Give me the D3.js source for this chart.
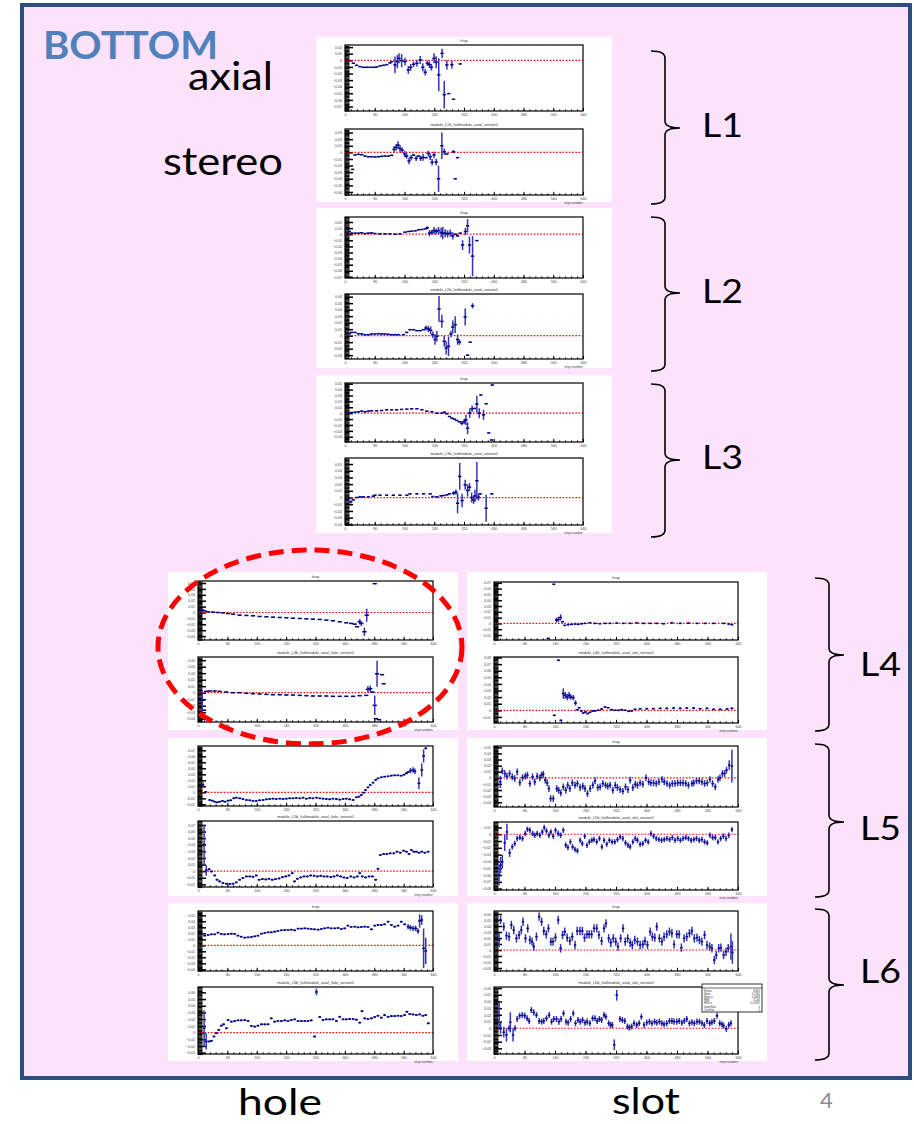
<!DOCTYPE html>
<html><head><meta charset="utf-8">
<script src="https://cdn.jsdelivr.net/npm/d3@7"></script>
<style>body{margin:0;background:#fff}svg{display:block}</style>
</head><body>
<svg id="c" width="914" height="1124"></svg>
<script>
// ---------------- DATA (x: % of axis range, y: residual units, red line at 0, optional error) ----------------
const layerNames = ["L1","L2","L3","L4","L5","L6"];
const rowLabels = ["axial","stereo"];
const columnLabels = ["hole","slot"];
const slideTitle = "BOTTOM";
const pageNumber = "4";
const topTitle = "hray";
const bottomTitles = ["module_L1b_halfmodule_axial_sensor0","module_L2b_halfmodule_axial_sensor0","module_L3b_halfmodule_axial_sensor0",
  "module_L4b_halfmodule_axial_hole_sensor0","module_L4b_halfmodule_axial_slot_sensor0",
  "module_L5b_halfmodule_axial_hole_sensor0","module_L5b_halfmodule_axial_slot_sensor0",
  "module_L6b_halfmodule_axial_hole_sensor0","module_L6b_halfmodule_axial_slot_sensor0"];
const statsNames = ["Entries","Mean","Mean y","RMS","RMS y","Underflow","Overflow"];
const statsValues = ["15655","0.1952","-0.0048","51.66","0.01367","0","0"];

const L1_axial = [[3.5,-4.5],[4.9,-7.6],[6.3,-9.6],[7.7,-10.6],[9.1,-10.6],[10.5,-10.6],[11.9,-10.6],[13.3,-10.1],[14.7,-8.6],[16.1,-7.6],[17.5,-6.6],[18.9,-4],[19.6,-2],
 [21,-7,12.6],[22,-2,10],[22.7,3,7.6],[23.8,-0.5,10],[25.2,-2,6],[26.6,-14.6,6],[27.6,-10.6,5],[28.8,-6,4],[30.2,-4.5,5],[31.6,0.5,6],[32.7,-10.6,6],[33.7,-18,5],
 [34.6,-4.5,4],[35.5,-6.6,5],[36.3,-10.6,5],[37.4,3,7.6],[38.3,-3,9],[39.4,-22,25],[40.8,10.6,7],[41.7,-52,21],[42.8,-7,7],[43.6,-50.5,0.5],[44.9,-6.6,6],[45.6,-59,0.5],[48.4,-5.5,0.5]];
const L1_stereo = [[3.2,-25.8],[4.2,-4],[5.6,-3],[7,-3.5],[8.4,-5.6],[9.8,-6.6],[11.2,-6.6],[12.6,-7],[14,-6.6],[15.4,-6],[16.8,-5.6],[18.2,-5.6],[19.6,-4.5],
 [20.6,4.5,5],[21.5,7.6,5],[22.3,11,6],[23.1,6,5],[24,3.5,4],[25.1,-2.5,5],[25.9,-5.6,4],[26.9,-13,5],[27.8,-8,4],[28.8,-4],[29.9,-9,4],[30.9,-5.6],[31.8,-9,4],
 [32.8,-7.6,5],[34,-8],[35,-1.5,4],[35.8,-6.6,5],[36.6,-15,5],[37.4,-4,5],[38.3,-14.6,5],[39.3,-40,20],[40.7,10,20],[41.7,1,5],[42.8,-2.5],[45.6,1,2.5],[46.3,-40],[47.3,-8]];
const L2_axial = [[1.8,4.4],[2.8,1.7],[4.2,1.7],[5.6,1.7],[7,2.2],[8.4,1.1],[9.8,1.7],[11.2,2.2],[12.6,1.1],[14.7,0.5],[16.8,0.5],[18.9,0.5],[21,0],[23.1,0.5],
 [25.2,3.3],[26.6,4.4],[28,5],[29.5,5.5],[30.9,7.2],[32.3,7.7],[33.7,8.8],[34.6,10.5,2.5],[35.5,1.7,5],[36.5,3.3,4],[37.4,6,6],[38.3,4.4,5],[39.3,6,6],[40.4,2.8,8],
 [41.1,1.7,10],[42.1,1.7,6.6],[43.1,0.5,6],[44.2,1.7,6],[45.3,-2.8,6],[46.4,0],[47.3,-2.8],[48.4,1.7],[49.4,-17.7,8],[50.6,4.4,6],[51.5,13.8,11],[52.3,-17.7,14],[53.6,-36,33],[55.4,-10.5]];
const L2_stereo = [[1.8,3],[2.8,5],[4.2,5],[5.6,3],[7,2.6],[8.4,1.5],[9.8,1.5],[11.2,2.6],[12.6,2.6],[14,3],[15.4,2.6],[16.8,2.6],[18.2,2],[19.6,1.5],[21,1.5],[22.4,1.5],
 [24.5,1.5],[25.9,5],[27.3,9.2],[28.8,9.2],[30.2,7.7],[31.6,7.7],[33,9.2],[34,11.8,4],[35,10.3,5],[36,8.2,6],[36.9,1.5,5],[37.8,-6,8],[38.6,-1,8],[39.5,41,20],
 [40.7,22,10],[41.7,-8.7,8],[42.5,-19,10],[43.5,-16.4,15],[44.5,2.6,5],[45.3,13.3,10],[46.3,17,13],[47.3,-6,8],[48.1,-10,4],[50.5,28.7,13],[51.5,-30],[52.6,-10],[53.6,46,4]];
const L3_axial = [[1.4,0],[2.8,1.1],[4.2,1.7],[5.6,2.3],[7,3.4],[8.4,2.3],[9.8,3.4],[11.2,4],[13.3,4],[15.4,4.5],[17.5,5.7],[19.6,5.7],[21.7,5.7],[23.8,6.3],[26,6.8],
 [28,7.4],[30.2,7.4],[32.3,5.7],[34.4,3.4],[36.5,2.3],[38.6,0],[40.7,0],[41.8,1.7],[42.8,-1.1],[43.9,-5.7],[44.9,-8.5],[46,-10.2],[47,-12.5],[48.1,-14.8],
 [49.1,-17,3.5],[50.1,-14.2,4.5],[50.8,-11.4,8.5],[51.5,-25.6,10],[52.4,0,8],[53.4,7.4,5.5],[54.4,8],[55.4,15.3,14],[56.4,0,8.5],[57.1,30.7],[58.2,-2.8,8.5],[59.3,16],[60.4,-33.5],[61.9,47.7],[61.6,-45.5]];
const L3_stereo = [[1.4,-1],[2.4,-6.5,2.5],[3.5,-3.5],[4.9,0],[6.3,1],[7.7,1],[9.8,1],[11.9,2],[12.6,3.5],[14.7,3.5],[17.5,3.5],[20.3,3.5],[23.1,3.5],[26,3.5],
 [27.3,5.5],[30.2,5.5],[33,5.5],[35.8,5.5],[36.9,1.5],[38.6,1],[40.3,2.5],[41.4,3],[42.8,4],[43.9,5.5],[45.6,6.5,3],[46.6,8,4],[47.3,-8.5,15],[48.2,31.5,20],
 [49.2,-4.5,10],[50.5,19,7.5],[51.5,10.5,9],[52.3,15.5,6],[53.2,0,7.5],[54,-3.5,6],[54.6,2.5,9],[55.4,25,28],[56.1,0.5,5],[56.8,5.5],[59.3,-16,20],[61.7,5.5]];
const L4_hole_axial = [[1.8,4,2.8],[2.8,2.8],[4.3,1.1],[6.4,0.6],[8.5,0],[10.6,-0.6],[12.8,-1.7],[14.9,-2.8],[17.7,-4.5],[20.6,-5],[23.4,-5.6],[26.2,-6.7],[29.1,-7.3],
 [31.9,-7.9],[34.8,-8.4],[37.6,-9],[40.4,-9.6],[43.3,-10.1],[46.1,-10.7],[48.9,-11.2],[51.8,-11.8],[54.6,-12.9],[57.4,-14],[60.3,-15.7],[63.1,-17.4],[65.2,-18.5],
 [66.7,-19.7],[67.7,-24.2],[68.8,-15.7,4.5],[69.5,-18.5,4.5],[70.8,-32.6,7],[71.8,-4.5,11],[75.2,48.9]];
const L4_hole_stereo = [[1.8,-11.8,15],[2.6,-27],[3.5,2],[5,2.6],[7.1,2.6],[9.2,2],[12,1],[14.9,0],[17.7,0],[20.6,-1],[23.4,-1.5],[26.2,-2],[29.1,-2.6],[31.9,-3.1],
 [34.8,-3.1],[37.6,-3.6],[40.4,-3.6],[43.3,-4.1],[46.1,-4.6],[48.9,-5.1],[51.8,-5.1],[54.6,-5.1],[57.4,-5.6],[60.3,-5.6],[63.1,-5.6],[66,-5.6],[68.8,-4.6],[71.6,-4.1],
 [72.3,5.1,5],[73.3,6.1,5],[74.2,1],[75.2,-19.5,15],[75.7,-40],[76.2,29,20],[78.3,27.7],[79,13.8],[77,-41.5]];
const L4_slot_axial = [[22.2,-25.7],[24.5,67.4],[25.6,5.7,4.5],[26.4,6.9,4.5],[27.3,10.3,5.5],[28.1,2.9],[29,-3.4],[30.4,-2.3],[31.8,-1.7],[33.2,-1.1],[34.5,-1.7],[35.9,-0.6],
 [37.3,0],[39.3,1.1],[41.4,0],[43.4,-0.6],[45.5,0],[47.5,0],[50.3,0.6],[53,0],[55.8,0],[58.5,1.1],[61.2,0],[64,0],[66.7,0],[69.5,-0.6],[72.9,1.1],[76.3,0],[79.7,0.6],
 [83.2,0],[86.6,0],[90,0],[94.1,0],[96.2,-1.1],[97.5,-2.3]];
const L4_slot_stereo = [[24.7,-7.6],[26.4,75.8],[27.4,-15.2],[28.4,25.3,8],[29.2,22.7,5],[30,20.2,5],[30.8,22.7,5],[31.5,20.2,4],[32.5,19.2,4],[33.4,11.1,4],[34.1,1],
 [34.9,4],[35.8,-1],[36.6,-4],[37.5,-2.5],[38.4,-5],[39.3,-3],[40.4,-1],[41.4,-1],[42.7,0],[44.1,2],[45.5,5],[46.8,4],[48.2,1],[49.6,0],[51,0],[52.3,1],[53.7,0],
 [55.1,-1.5],[56.4,-1],[57.8,1.5],[59.9,2.5],[62.6,2.5],[65.3,2.5],[68.1,3],[70.8,3],[73.6,3.5],[76.3,3],[79,3.5],[81.8,3.5],[84.5,2.5],[87.3,3],[90,1.5],[92.7,1.5],[95.5,2],[97.5,3]];
const L5_hole_axial = [[2.1,12.2,4.5],[3.3,0.6],[5,-12.8],[6.1,-13.9],[7.1,-15.6],[8.1,-16.7],[9.2,-15.6],[10.4,-14.4],[11.5,-15.6],[12.8,-13.9],[13.9,-13.3],[15.2,-10],
 [16.3,-8.9],[17.7,-10],[19.1,-11.1],[20.6,-12.8],[22,-13.3],[23.4,-14.4],[24.8,-14.4],[26.2,-13.3],[27.7,-12.8],[29.1,-11.7],[30.5,-11.1],[31.9,-10.6],[33.3,-11.1],
 [34.8,-10.6],[36.2,-11.1],[37.6,-10.6],[39,-10],[40.4,-10],[41.8,-9.4],[43.3,-10],[44.7,-8.9],[46.1,-10.6],[47.5,-9.4],[48.9,-10],[50.4,-8.9],[51.8,-10],[53.2,-10.6],
 [54.6,-11.1],[56,-11.7],[57.4,-10.6],[58.9,-11.1],[60.3,-12.2],[61.7,-11.1],[63.1,-10.6],[64.5,-11.7],[66,-12.8],[67.4,-8.3],[68.5,-7.2],[69.5,-4.4],[70.5,-0.6],
 [71.3,3.9],[72.3,8.3],[73.3,12.2],[74.5,16.1],[75.6,20.6],[76.6,23.3],[78,25],[79.4,26.1],[80.9,26.7],[82.3,27.8],[83.7,28.3],[85.1,28.3],[86.5,27.8],[87.7,29.4],
 [88.7,31.7],[89.4,33.9],[90.4,36.1,4.5],[91.5,37.2,4.5],[92.3,35,4.5],[94,15,10],[95.2,37.2,11],[96,60.6,11],[96.9,73.3]];
const L5_hole_stereo = [[2.6,40.5,30],[3.5,1,8],[4.7,3],[5.7,-0.5],[7.1,-6.5],[8.1,-13],[9.2,-15.5],[10.6,-18],[12.1,-19],[13.5,-19.5],[14.9,-19],[16.3,-17],[17.7,-13],
 [19.1,-10.5],[20.6,-8],[22,-8],[23.4,-8.5],[24.8,-6.5],[26,-13],[27.4,-12],[28.8,-12.5],[30.2,-11.5],[31.6,-13],[33,-12],[34.5,-11],[35.9,-9],[37.3,-8],[38.7,-6.5],
 [40.1,-3],[41.1,-15.5],[42.3,-11.5],[43.7,-9.5],[45.1,-8],[46.5,-8],[47.9,-6.5],[49.4,-7],[50.8,-8],[52.2,-7],[53.6,-8],[55,-8],[56.5,-9],[57.9,-8],[59.3,-6.5],
 [60.7,-8],[62.1,-9.5],[63.5,-10.5],[65,-8],[66.4,-9.5],[67.8,-8],[68.8,-3],[69.9,-8],[71.3,-9.5],[72.8,-8],[74.2,-8],[75.6,-13],[76.6,3.5],[77.6,24.5],[79,26],
 [80.4,26],[81.8,27],[83.3,27],[84.7,29.5],[86.1,28],[87.5,31],[88.7,29.5],[89.8,26],[90.8,32],[91.8,29.5],[92.9,29.5],[94,28],[95.2,29.5],[96.5,28],[97.9,29.5]];
const L5_slot_axial = [[2.6,-6.6,10],[3.4,11.5],[4.4,7.1],[5.3,2.7],[6.4,7.1],[7.5,1.6],[8.5,-1.1],[9.5,9.9],[10.6,-7.7],[11.7,0.5],[12.8,2.7],[13.7,4.4],[14.7,-9.3],
 [15.8,1.6],[16.7,-6.6],[17.7,2.7],[18.8,0],[19.5,4.4],[20.2,6],[21,-3.8],[21.8,-8.2],[22.5,-17.6],[23.2,-34],[24.3,-34],[25.7,-17.6],[26.5,-20.3],[27.4,-24.7],
 [28.4,-14.8],[29.4,-20.3],[30.2,-12.1],[31.1,-17.6],[32.1,-8.2],[33.2,-12.1],[34.2,-9.3],[35.3,-15.9],[36.4,-13.7],[37.3,-17.6],[38.3,-25.8],[39.4,-17.6],[40.5,-12.1],
 [41.4,-4.9],[42.5,-15.9],[43.5,-14.8],[44.6,-9.3],[45.7,-12.1],[46.6,-13.7],[47.6,-12.1],[48.7,-20.3],[49.7,-12.1],[50.6,-15.9],[51.7,-19.2],[52.8,-22],[53.9,-14.8],
 [54.9,-19.2],[55.8,-3.8],[56.9,-15.9],[57.9,-10.4],[58.8,-12.1],[59.9,-8.2],[61,-10.4],[62.3,0],[63.4,-6.6],[64.3,-8.2],[65.4,-8.2],[66.5,-9.3],[67.6,-6.6],[68.9,-2.7],
 [69.8,-6.6],[70.9,-9.3],[72,-12.1],[73.1,-9.3],[74.2,-9.3],[75.3,-8.2],[76.4,-8.2],[77.5,-8.2],[78.6,-9.3],[79.7,-12.1],[81.1,-9.3],[81.9,-8.2],[83,-4.9],[84.1,-4.9],
 [85.2,-6.6],[86.3,-9.3],[87.4,-8.2],[88.5,-2.7],[89.6,-9.3],[90.7,-14.8],[91.8,-2.7],[92.6,0],[93.6,7.1],[94.5,7.1],[95.3,12.6],[96.4,20.9,8],[97.5,19.2,27]];
const L5_slot_stereo = [[2.1,-60,15],[2.7,-45.4,12],[3.4,-40.5,10],[4.4,-12.7,12],[5.3,3.4,12],[6.4,-27.3,6],[7.5,-18.5],[8.5,-13.7],[9.5,-6.3],[10.6,-4.9],[11.7,-6.3],
 [12.8,1],[13.7,7.3],[14.7,5.9],[15.8,1],[16.7,-1.5],[17.7,1],[18.8,-1.5],[19.8,3.4],[20.6,9.8],[21.5,4.9],[22.5,-1.5],[23.3,3.4],[24.3,-2.9],[25.2,5.9],[26.3,1],
 [27.3,-1.5],[28.4,5.9],[29.4,-16.1],[30.3,-19.5],[31.3,-11.2],[32.2,-18.5],[33.2,-22.4],[34.2,-24.4],[35.3,-8.8],[36.2,-13.7],[37.2,-2.9],[38.1,-16.1],[39.1,-11.2],
 [40.1,-8.8],[41,-7.8],[42.1,-11.2],[43.2,-6.3],[44.2,-18.5],[45.1,-8.8],[46.2,-14.6],[47.3,-8.8],[48.4,-11.2],[49.5,-11.2],[50.6,-7.8],[51.7,-3.9],[52.8,-6.3],
 [53.9,-12.7],[54.9,-16.1],[55.8,-18.5],[56.9,-11.2],[57.9,-6.3],[58.8,-8.8],[59.9,-14.6],[61,-13.7],[62.1,-8.8],[63.2,-11.2],[64.3,1],[65.4,-2.9],[66.5,-6.3],
 [67.6,-7.8],[68.7,-8.8],[69.8,-7.8],[70.9,-6.3],[72,-7.8],[73.1,-4.9],[74.2,-8.8],[75.3,-6.3],[76.4,-8.8],[77.5,-6.3],[78.6,-4.9],[79.7,-6.3],[80.8,-8.8],[81.9,-7.8],
 [83,-6.3],[84.1,-8.8],[85.2,-7.8],[86.3,-11.2],[87.4,-12.7],[88.5,-1.5],[89.6,-4.9],[90.7,-4.9],[91.8,-11.2],[92.9,-6.3],[94,-2.9],[95.1,-6.3],[96.2,-1.5],[97.5,6.8]];
const L6_hole_axial = [[2.8,16.1],[4.3,17.2],[5.7,18.3],[7.1,18.3],[8.5,21.1],[9.9,18.9],[11.3,18.3],[12.8,18.9],[14.2,19.4],[15.6,18.9],[17,16.1],[18.4,14.4],[19.9,12.8],
 [21.3,13.3],[22.7,13.9],[24.1,15],[25.5,16.1],[27,19.4],[28.4,20.6],[29.8,21.7],[31.2,21.7],[32.6,22.8],[34,23.9],[35.5,25],[36.9,25.6],[38.3,25.6],[39.7,26.1],
 [41.1,25],[42.6,27.8],[44,27.8],[45.4,28.3],[46.8,27.8],[48.2,27.2],[49.6,26.7],[51.1,26.1],[52.5,27.2],[53.9,28.3],[55.3,29.4],[56.7,28.3],[58.2,28.3],[59.6,28.9],
 [61,27.2],[62.4,28.3],[63.8,32.8],[65.2,30.6],[66.7,31.1],[68.1,30],[69.5,30.6],[70.9,31.1],[72.3,30.6],[73.8,26.7],[75.2,32.8],[76.6,33.9],[78,33.9],[79.4,35],
 [80.9,39.4],[82.3,33.9],[83.7,31.1],[85.1,32.8],[86.5,39.4],[87.9,35],[89.4,31.1,4.5],[90.4,29.4,4.5],[91.5,28.3,4.5],[92.6,28.3,4.5],[93.6,23.9,4.5],[94.3,40.6,11],
 [95.2,42.2,8],[96,-5,33],[96.9,-9.4,22]];
const L6_hole_stereo = [[2.6,6.4,27],[3.5,-13.3,12],[4.7,-13.3],[5.7,-12.3],[6.8,-5.9],[7.8,-1],[8.8,3.9],[9.9,10.3],[10.9,12.3],[12.1,6.4],[12.8,18.7],[14.2,16.3],
 [15.6,17.2],[17,18.2],[18.4,18.2],[19.9,18.7],[21.3,17.2],[22.7,9.9],[24.1,8.9],[25.5,10.3],[27,12.3],[28.4,12.3],[29.8,12.3],[31.2,21.2],[32.6,16.3],[34,17.2],
 [35.5,17.2],[36.9,18.2],[38.3,17.2],[39.7,18.7],[41.1,19.7],[42.6,17.2],[44,17.2],[45.4,17.2],[46.8,17.2],[48.2,18.2],[49.6,-5.9],[50.4,60.6,5],[51.8,23.2],[53.2,18.7],
 [54.6,19.7],[56,19.7],[57.4,19.7],[58.9,17.2],[60.3,23.6],[61.7,19.7],[63.1,19.7],[64.5,20.2],[66,20.2],[67.4,19.2],[68.8,14.8],[69.8,32],[70.9,21.2],[72.3,20.2],
 [73.8,21.2],[75.2,23.2],[76.6,25.1],[78,22.2],[79.4,26.1],[80.9,23.6],[82.3,24.6],[83.7,24.6],[85.1,25.1],[86.5,24.6],[87.9,26.1],[88.9,31],[90.1,27.6],[91.5,27.1],
 [92.9,26.1],[94.3,27.1],[95.7,25.1],[96.9,26.1],[98,13.8]];
const L6_slot_axial = [[2.1,16.7,12],[2.7,50],[4,38.9],[5.1,23.9],[6.2,22.2],[7.1,41.7],[8.1,33.3],[9.2,19.4],[10.3,25],[11.2,33.3],[11.9,47.2],[12.9,19.4],[13.8,36.1],
 [14.7,16.7],[15.6,13.9],[16.3,5.6],[17.4,22.2],[18.5,55.6],[19.5,47.2],[20.4,31.7],[21.4,26.1],[22.3,36.1],[23.3,13.9],[24.2,13.9],[25.2,21.1],[26.3,50],[27.3,2.8],
 [28.1,25],[29,30.6],[30,20.6],[31.1,15],[32.1,22.2],[33.2,8.3],[34.1,31.7],[35.2,31.7],[36.2,31.7],[37.1,20.6],[38.1,26.1],[39,26.1],[40,26.1],[41,36.1],[42.1,36.1],
 [43,25],[44.1,15],[45.1,36.1],[45.9,44.4],[47,19.4],[47.9,12.2],[48.9,19.4],[49.9,13.9],[50.8,5.6],[51.9,19.4],[52.9,36.1],[53.8,13.9],[54.8,19.4],[55.8,12.2],
 [56.7,8.3],[57.7,16.7],[58.8,13.9],[59.9,8.3],[61,9.4],[61.9,15],[62.9,8.3],[64,30.6],[64.9,22.2],[65.9,20.6],[66.7,38.9],[67.8,19.4],[68.8,13.9],[69.7,22.2],
 [70.8,26.1],[71.9,30.6],[72.9,27.8],[73.8,9.4],[74.9,26.1],[75.9,26.1],[76.8,3.9],[77.9,19.4],[79,22.2],[80.1,27.8],[81.1,31.7],[82.1,19.4],[83.2,20.6],[84.2,16.7],
 [85.2,13.9],[86.3,25],[87.3,8.3],[88.4,5.6],[89.3,2.8],[90.3,-16.7],[91.1,-8.3],[92.1,2.8],[93,3.9],[94.1,-8.3],[95.1,-2.8],[96,2.8],[97.1,5.6,22],[97.7,-3.9,19]];
const L6_slot_stereo = [[2.1,19.7,20],[2.7,0,8],[4,-5.9,8],[5.1,-9.9,10],[6.2,0],[6.7,8.9,15],[7.8,-9.9,10],[8.6,0],[9.5,13.8],[10.5,18.7],[11.6,19.7],[12.6,18.7],
 [13.6,14.8],[14.4,10.8],[15.3,27.1],[16.3,23.6],[17.4,19.7],[18.5,10.8],[19.5,9.9],[20.4,10.8],[21.5,14.8],[22.6,19.7],[23.6,9.9],[24.5,13.8],[25.6,13.8],[26.6,9.9],
 [27.5,13.8],[28.5,22.2],[29.5,9.9],[30.4,8.4],[31.4,13.8],[32.5,22.2],[33.4,7.4],[34.4,12.3],[35.3,9.9],[36.3,12.3],[37.3,8.4],[38.2,9.9],[39.3,7.4],[40.4,14.8],
 [41.4,14.8],[42.3,10.8],[43.2,13.8],[44.1,12.3],[45.1,19.7],[45.9,17.2],[47,7.4],[47.8,4.9],[48.5,4.9],[49.3,-24.6,8],[50.3,49.3,8],[51.6,13.8],[52.6,12.3],[53.6,10.8],
 [54.7,2.5],[55.5,1],[56.4,2.5],[57.4,7.4],[58.5,4.9],[59.5,7.4],[60.4,17.2],[61.5,4.9],[62.6,8.4],[63.7,9.9],[64.7,7.4],[65.8,9.9],[66.7,8.4],[67.8,9.9],[68.8,7.4],
 [69.7,5.9],[70.8,7.4],[71.9,10.8],[72.9,10.8],[73.8,9.9],[74.9,9.9],[75.9,10.8],[77,8.4],[78,10.8],[79,13.8],[80.1,7.4],[81.1,8.9],[82.1,7.4],[83.2,9.9],[84.2,9.9],
 [85.2,7.4],[86.2,4.9],[87.3,10.8],[88.4,7.4],[89.3,8.9],[90.3,10.8],[91.4,18.7],[92.5,7.4],[93.4,5.9],[94.1,3.9],[95.2,-1],[96.2,4.9],[97.1,7.4]];

// y-axis ranges of each pad (residual units)
const yRanges = {
  L1_axial:[-76.8,23.2], L1_stereo:[-64.6,35.4], L2_axial:[-71.8,28.2], L2_stereo:[-35.9,64.1],
  L3_axial:[-48.9,51.1], L3_stereo:[-41,59], L4_hole_axial:[-46.6,53.4], L4_hole_stereo:[-45.1,54.9],
  L4_slot_axial:[-28.6,71.4], L4_slot_stereo:[-19.2,80.8], L5_hole_axial:[-22.8,77.2], L5_hole_stereo:[-24,76],
  L5_slot_axial:[-47.8,52.2], L5_slot_stereo:[-82,18], L6_hole_axial:[-42.8,57.2], L6_hole_stereo:[-32,68],
  L6_slot_axial:[-35,65], L6_slot_stereo:[-38.4,61.6]
};
// default error (residual units) where none is given
const defaultErr = {
  L1_axial:0.8, L1_stereo:0.8, L2_axial:0.8, L2_stereo:0.8, L3_axial:0.8, L3_stereo:0.8,
  L4_hole_axial:0.8, L4_hole_stereo:0.8, L4_slot_axial:1, L4_slot_stereo:1.2,
  L5_hole_axial:1.5, L5_hole_stereo:1.5, L5_slot_axial:5.5, L5_slot_stereo:4,
  L6_hole_axial:1.5, L6_hole_stereo:1.5, L6_slot_axial:7, L6_slot_stereo:4.5
};
const series = {L1_axial,L1_stereo,L2_axial,L2_stereo,L3_axial,L3_stereo,L4_hole_axial,L4_hole_stereo,L4_slot_axial,L4_slot_stereo,
  L5_hole_axial,L5_hole_stereo,L5_slot_axial,L5_slot_stereo,L6_hole_axial,L6_hole_stereo,L6_slot_axial,L6_slot_stereo};

// ---------------- LAYOUT ----------------
const svg = d3.select("#c");
const PINK = "#fce2fa", NAVY = "#000080", BAR = "#3434b4";
svg.append("rect").attr("x",0).attr("y",0).attr("width",914).attr("height",1124).attr("fill","#fff");
svg.append("rect").attr("x",22).attr("y",5).attr("width",888).attr("height",1073)
  .attr("fill",PINK).attr("stroke","#2c4d7f").attr("stroke-width",4);

const panels = [
  {key:"L1", box:[316,37,612,202], fx:[345,583], top:[45,111], bot:[129,195], hw:0.7, t:0},
  {key:"L2", box:[316,208,612,368], fx:[345,583], top:[217,278], bot:[294,359], hw:0.7, t:1},
  {key:"L3", box:[316,375,612,533], fx:[345,583], top:[383,442], bot:[458,525], hw:0.7, t:2},
  {key:"L4_hole", box:[168,572,458,730], fx:[198,433], top:[581,640], bot:[657,722], hw:0.9, t:3},
  {key:"L4_slot", box:[467,572,767,730], fx:[494,738], top:[582,640], bot:[657,723], hw:0.6, t:4},
  {key:"L5_hole", box:[168,738,458,896], fx:[198,433], top:[746,806], bot:[821,887], hw:0.6, t:5},
  {key:"L5_slot", box:[467,738,767,896], fx:[494,738], top:[746,807], bot:[822,890], hw:0.5, t:6},
  {key:"L6_hole", box:[168,903,458,1061], fx:[198,433], top:[911,971], bot:[987,1054], hw:0.6, t:7},
  {key:"L6_slot", box:[467,903,767,1061], fx:[494,738], top:[911,971], bot:[987,1054], hw:0.5, t:8}
];

const tinyFont = "Liberation Sans, Arial, sans-serif";
function drawPad(g, name, fx, fy, title, hw, showXLabel) {
  const x = d3.scaleLinear().domain([0,100]).range(fx);
  const y = d3.scaleLinear().domain(yRanges[name]).range([fy[1], fy[0]]);
  g.append("rect").attr("x",fx[0]).attr("y",fy[0]).attr("width",fx[1]-fx[0]).attr("height",fy[1]-fy[0])
    .attr("fill","#fff");
  // minor y ticks (ROOT style, inside the frame)
  const ym = g.append("g").attr("transform",`translate(${fx[0]},0)`)
    .call(d3.axisLeft(y).ticks(40).tickSize(-4.5).tickFormat(""));
  ym.select(".domain").remove();
  ym.selectAll("line").attr("stroke","#000").attr("stroke-width",1.2);
  const yM = g.append("g").attr("transform",`translate(${fx[0]},0)`)
    .call(d3.axisLeft(y).ticks(8).tickSize(-8).tickPadding(3).tickFormat(d=>d3.format("~g")(d/1000)));
  yM.select(".domain").remove();
  yM.selectAll("line").attr("stroke","#000").attr("stroke-width",1.5);
  yM.selectAll("text").attr("font-size",3.6).attr("font-family",tinyFont).attr("fill","#444");
  // x ticks
  const xm = g.append("g").attr("transform",`translate(0,${fy[1]})`)
    .call(d3.axisBottom(x).tickValues(d3.range(0,100.1,2.5)).tickSize(-1.6).tickFormat(""));
  xm.select(".domain").remove();
  xm.selectAll("line").attr("stroke","#000").attr("stroke-width",1);
  const xM = g.append("g").attr("transform",`translate(0,${fy[1]})`)
    .call(d3.axisBottom(x).tickValues(d3.range(0,100.1,12.5)).tickSize(-3.2).tickPadding(2).tickFormat(d=>d3.format("d")(d*6.4)));
  xM.select(".domain").remove();
  xM.selectAll("line").attr("stroke","#000").attr("stroke-width",1);
  xM.selectAll("text").attr("font-size",3.6).attr("font-family",tinyFont).attr("fill","#444");
  // reference line
  g.append("line").attr("x1",fx[0]).attr("x2",fx[1]).attr("y1",y(0)).attr("y2",y(0))
    .attr("stroke","#ff0000").attr("stroke-width",1.2).attr("stroke-dasharray","1.6,1.6");
  // points with error bars
  const de = defaultErr[name];
  const pts = g.append("g");
  series[name].forEach(p => {
    const e = p.length > 2 ? p[2] : de;
    pts.append("line").attr("x1",x(p[0])).attr("x2",x(p[0]))
      .attr("y1",y(Math.max(p[1]-e, yRanges[name][0]))).attr("y2",y(Math.min(p[1]+e, yRanges[name][1])))
      .attr("stroke",BAR).attr("stroke-width",1.5);
    pts.append("line").attr("x1",x(p[0]-hw)).attr("x2",x(p[0]+hw)).attr("y1",y(p[1])).attr("y2",y(p[1]))
      .attr("stroke",NAVY).attr("stroke-width",1.5);
  });
  // frame
  g.append("rect").attr("x",fx[0]).attr("y",fy[0]).attr("width",fx[1]-fx[0]).attr("height",fy[1]-fy[0])
    .attr("fill","none").attr("stroke","#000").attr("stroke-width",1.2);
  g.append("text").attr("x",(fx[0]+fx[1])/2).attr("y",fy[0]-3).attr("text-anchor","middle")
    .attr("font-size",3.8).attr("font-family",tinyFont).attr("fill","#333").text(title);
  if (showXLabel) g.append("text").attr("x",fx[1]).attr("y",fy[1]+9).attr("text-anchor","end")
    .attr("font-size",3.4).attr("font-family",tinyFont).attr("fill","#444").text("strip number");
}

panels.forEach(p => {
  const g = svg.append("g");
  g.append("rect").attr("x",p.box[0]).attr("y",p.box[1]).attr("width",p.box[2]-p.box[0]).attr("height",p.box[3]-p.box[1]).attr("fill","#fff");
  drawPad(g, p.key+"_axial", p.fx, p.top, topTitle, p.hw, false);
  drawPad(g, p.key+"_stereo", p.fx, p.bot, bottomTitles[p.t], p.hw, true);
});

// stats box on the L6 slot stereo pad
{
  const bx = 702, by = 984, bw = 60, bh = 28;
  const sg = svg.append("g");
  sg.append("rect").attr("x",bx).attr("y",by).attr("width",bw).attr("height",bh).attr("fill","#fff").attr("stroke","#000").attr("stroke-width",0.8);
  sg.append("line").attr("x1",bx).attr("x2",bx+bw).attr("y1",by+4).attr("y2",by+4).attr("stroke","#000").attr("stroke-width",0.6);
  statsNames.forEach((n,i)=>{
    sg.append("text").attr("x",bx+2).attr("y",by+7.5+i*3.2).attr("font-size",2.6).attr("font-family",tinyFont).attr("fill","#333").text(n);
    sg.append("text").attr("x",bx+bw-2).attr("y",by+7.5+i*3.2).attr("text-anchor","end").attr("font-size",2.6).attr("font-family",tinyFont).attr("fill","#333").text(statsValues[i]);
  });
}

// red dashed ellipse around L4 hole
svg.append("ellipse").attr("cx",310).attr("cy",647).attr("rx",152).attr("ry",97)
  .attr("fill","none").attr("stroke","#ff0000").attr("stroke-width",5).attr("stroke-dasharray","15,8");

// braces + layer labels
function bracePath(x0, xm, xt, top, bot, mid) {
  const r = 7;
  return `M${x0},${top} Q${xm},${top} ${xm},${top+r} L${xm},${mid-r} Q${xm},${mid} ${xt},${mid} Q${xm},${mid} ${xm},${mid+r} L${xm},${bot-r} Q${xm},${bot} ${x0},${bot}`;
}
const braces = [
  {x0:651, xm:665, xt:680, top:51, bot:204, mid:128, tx:702, ty:137},
  {x0:651, xm:665, xt:680, top:217, bot:371, mid:293, tx:702, ty:303},
  {x0:651, xm:665, xt:680, top:384, bot:537, mid:460, tx:702, ty:469},
  {x0:815, xm:829, xt:844, top:578, bot:731, mid:655, tx:860, ty:676},
  {x0:815, xm:829, xt:844, top:744, bot:897, mid:822, tx:860, ty:840},
  {x0:815, xm:829, xt:844, top:909, bot:1060, mid:985, tx:860, ty:983}
];
const bigFont = "Lato, 'Open Sans', sans-serif";
braces.forEach((b,i)=>{
  svg.append("path").attr("d",bracePath(b.x0,b.xm,b.xt,b.top,b.bot,b.mid)).attr("fill","none").attr("stroke","#000").attr("stroke-width",1.6);
  svg.append("text").attr("x",b.tx).attr("y",b.ty).attr("font-size",33).attr("font-family",bigFont)
    .attr("textLength",41).attr("lengthAdjust","spacingAndGlyphs").attr("fill","#000").text(layerNames[i]);
});

// slide texts
svg.append("text").attr("x",43).attr("y",59).attr("font-size",38).attr("font-weight","bold").attr("font-family",bigFont)
  .attr("fill","#4f81bd").attr("textLength",175).attr("lengthAdjust","spacingAndGlyphs").text(slideTitle);
svg.append("text").attr("x",188).attr("y",90).attr("font-size",39).attr("font-family",bigFont)
  .attr("textLength",85).attr("lengthAdjust","spacingAndGlyphs").text(rowLabels[0]);
svg.append("text").attr("x",163).attr("y",175).attr("font-size",39).attr("font-family",bigFont)
  .attr("textLength",120).attr("lengthAdjust","spacingAndGlyphs").text(rowLabels[1]);
svg.append("text").attr("x",238).attr("y",1115).attr("font-size",37).attr("font-family",bigFont)
  .attr("textLength",84).attr("lengthAdjust","spacingAndGlyphs").text(columnLabels[0]);
svg.append("text").attr("x",612).attr("y",1114).attr("font-size",37).attr("font-family",bigFont)
  .attr("textLength",68).attr("lengthAdjust","spacingAndGlyphs").text(columnLabels[1]);
svg.append("text").attr("x",820).attr("y",1108).attr("font-size",22).attr("font-family",bigFont)
  .attr("fill","#8c8c8c").text(pageNumber);
</script>
</body></html>
